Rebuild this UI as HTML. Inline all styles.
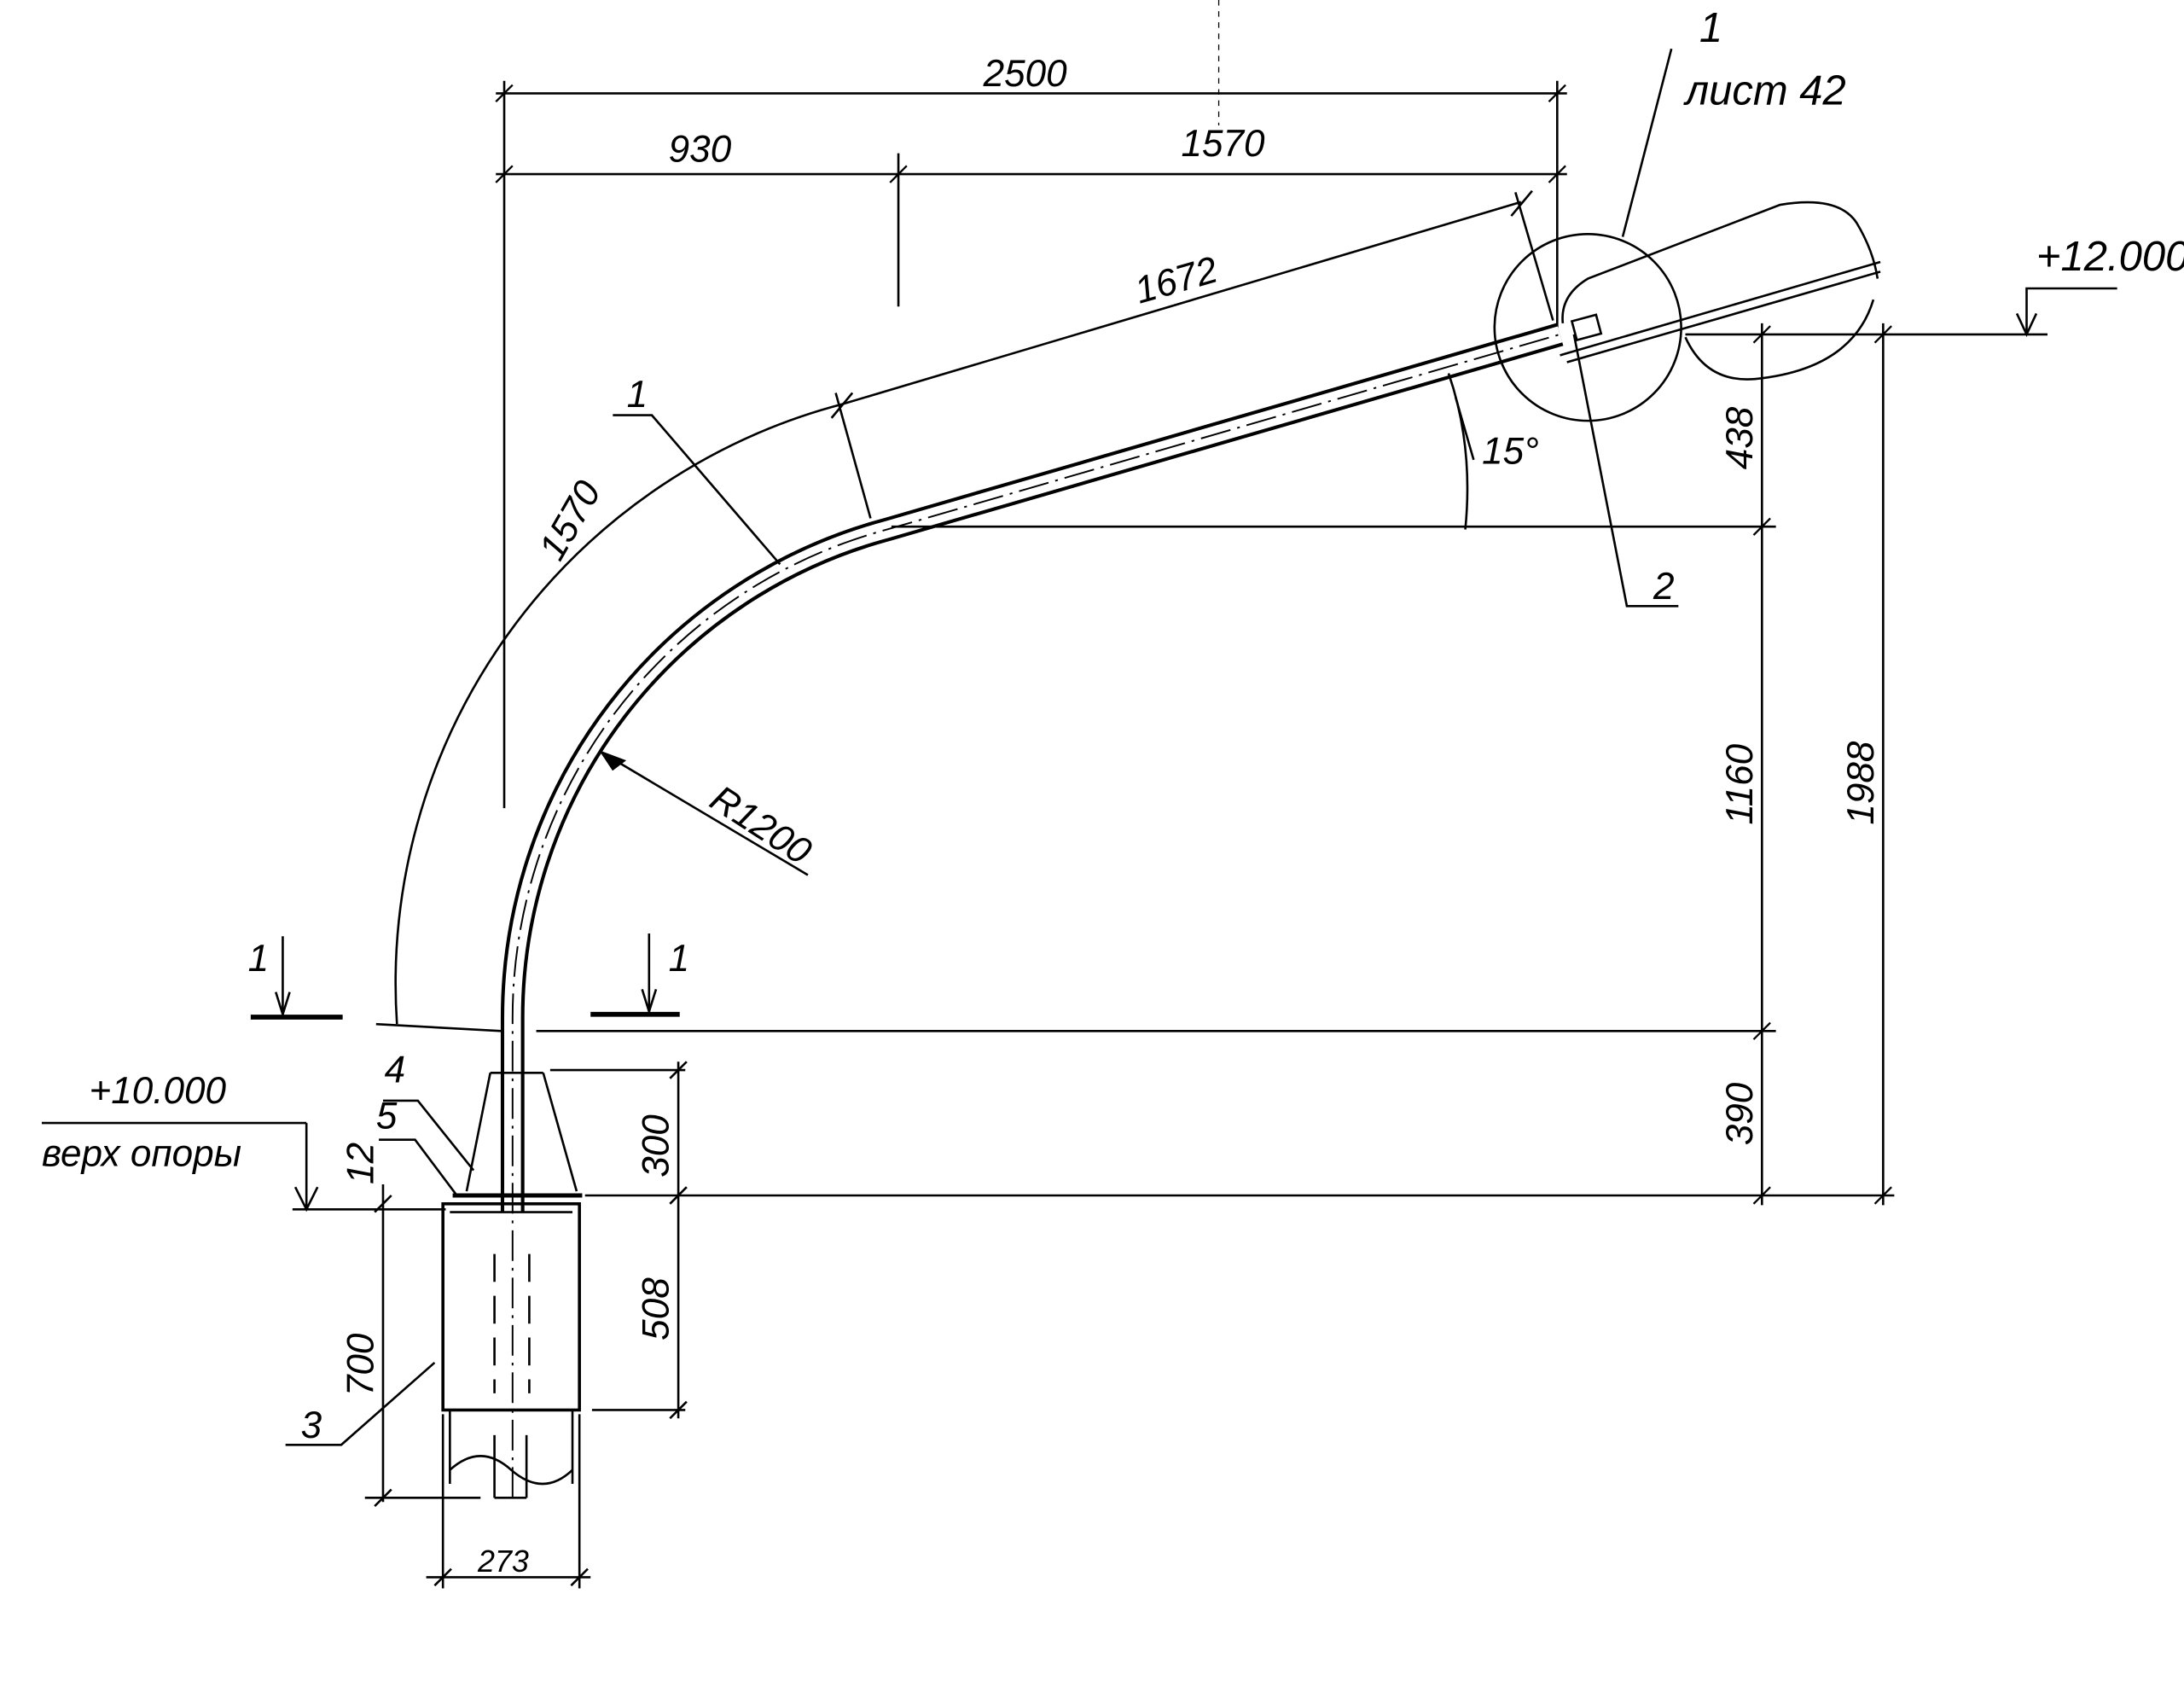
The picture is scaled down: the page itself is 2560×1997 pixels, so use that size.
<!DOCTYPE html>
<html><head><meta charset="utf-8"><style>
html,body{margin:0;padding:0;background:#fff;}
svg{display:block;}
text{font-family:"Liberation Sans",sans-serif;font-style:italic;fill:#000;}
</style></head><body>
<svg width="2560" height="1997" viewBox="0 0 1568 1223" preserveAspectRatio="none" xmlns="http://www.w3.org/2000/svg">
<rect width="1568" height="1223" fill="#fff"/>
<g stroke="#000" fill="none" stroke-width="1.6">
<line x1="356" y1="67" x2="1125" y2="67"/>
<line x1="356" y1="125" x2="1125" y2="125"/>
<line x1="362" y1="58" x2="362" y2="580"/>
<line x1="1118" y1="58" x2="1118" y2="235"/>
<line x1="645" y1="110" x2="645" y2="220"/>
<g stroke-width="1.4">
<line x1="356" y1="73" x2="368" y2="61"/><line x1="1112" y1="73" x2="1124" y2="61"/>
<line x1="356" y1="131" x2="368" y2="119"/><line x1="639" y1="131" x2="651" y2="119"/><line x1="1112" y1="131" x2="1124" y2="119"/>
</g>
<path d="M368 870 L368 731 A363 363 0 0 1 637 380 L1120 240" stroke-width="17"/>
<path d="M368 870 L368 731 A363 363 0 0 1 637 380 L1120 240" stroke="#fff" stroke-width="12"/>
<path d="M368 1075 L368 731 A363 363 0 0 1 637 380 L1120 240" stroke-width="1.2" stroke-dasharray="22 5 2 5"/>
<path d="M285 735 A430 430 0 0 1 605 290"/>
<line x1="605" y1="290" x2="1092" y2="145"/>
<line x1="600" y1="282" x2="625" y2="372"/>
<line x1="1088" y1="138" x2="1115" y2="230"/>
<line x1="597" y1="300" x2="612" y2="282"/><line x1="1085" y1="155" x2="1100" y2="137"/>
<polyline points="440,298 468,298 560,405"/>
<line x1="432" y1="540" x2="580" y2="628"/>
<polyline points="432,540 448,546 440,552 432,540" fill="#000"/>
<polyline points="1200,35 1165,170"/>
<polyline points="1130,240 1168,435 1205,435"/>
<line x1="640" y1="378" x2="1275" y2="378"/>
<path d="M1040 268 Q1058 320 1052 380"/>
<line x1="1045" y1="285" x2="1058" y2="330"/>
<circle cx="1140" cy="235" r="67"/>
<path d="M1122 232 Q1120 212 1140 200 L1278 147 Q1320 140 1333 160 Q1345 180 1348 200"/>
<path d="M1210 242 Q1225 275 1260 272 Q1330 265 1345 215"/>
<line x1="1120" y1="255" x2="1350" y2="188"/>
<line x1="1125" y1="260" x2="1350" y2="195"/>
<rect x="1130" y="228" width="18" height="14" transform="rotate(-15 1139 235)"/>
<line x1="1210" y1="240" x2="1470" y2="240"/>
<polyline points="1455,240 1455,207 1520,207"/>
<polyline points="1448,225 1455,240 1462,225"/>
<line x1="1265" y1="232" x2="1265" y2="865"/>
<line x1="1352" y1="232" x2="1352" y2="865"/>
<g stroke-width="1.4">
<line x1="1259" y1="246" x2="1271" y2="234"/><line x1="1259" y1="384" x2="1271" y2="372"/>
<line x1="1259" y1="746" x2="1271" y2="734"/><line x1="1259" y1="864" x2="1271" y2="852"/>
<line x1="1346" y1="246" x2="1358" y2="234"/><line x1="1346" y1="864" x2="1358" y2="852"/>
</g>
<line x1="270" y1="735" x2="360" y2="740"/>
<line x1="385" y1="740" x2="1275" y2="740"/>
<line x1="420" y1="858" x2="1360" y2="858"/>
<line x1="180" y1="730" x2="246" y2="730" stroke-width="3.5"/>
<line x1="424" y1="728" x2="488" y2="728" stroke-width="3.5"/>
<line x1="203" y1="672" x2="203" y2="728"/><polyline points="198,712 203,728 208,712"/>
<line x1="466" y1="670" x2="466" y2="726"/><polyline points="461,710 466,726 471,710"/>
<line x1="352" y1="770" x2="335" y2="855"/>
<line x1="390" y1="770" x2="414" y2="855"/>
<line x1="352" y1="770" x2="390" y2="770"/>
<line x1="325" y1="858" x2="418" y2="858" stroke-width="3"/>
<rect x="318" y="864" width="98" height="148" stroke-width="2.2"/>
<line x1="323" y1="870" x2="411" y2="870"/>
<line x1="323" y1="1012" x2="323" y2="1065"/>
<line x1="411" y1="1012" x2="411" y2="1065"/>
<path d="M323 1055 Q345 1035 367 1055 Q390 1075 411 1055"/>
<line x1="355" y1="1030" x2="355" y2="1075"/><line x1="378" y1="1030" x2="378" y2="1075"/><line x1="355" y1="1075" x2="378" y2="1075"/>
<line x1="355" y1="900" x2="355" y2="1000" stroke-dasharray="20 10"/>
<line x1="380" y1="900" x2="380" y2="1000" stroke-dasharray="20 10"/>
<line x1="395" y1="768" x2="492" y2="768"/>
<line x1="487" y1="762" x2="487" y2="1018"/>
<line x1="425" y1="1012" x2="492" y2="1012"/>
<line x1="481" y1="774" x2="493" y2="762"/><line x1="481" y1="864" x2="493" y2="852"/><line x1="481" y1="1018" x2="493" y2="1006"/>
<line x1="275" y1="850" x2="275" y2="1078"/>
<line x1="262" y1="1075" x2="345" y2="1075"/>
<line x1="269" y1="1081" x2="281" y2="1069"/><line x1="269" y1="870" x2="281" y2="858"/>
<line x1="210" y1="868" x2="320" y2="868"/>
<polyline points="220,806 220,868"/><polyline points="30,806 220,806"/>
<polyline points="212,852 220,868 228,852"/>
<line x1="318" y1="1015" x2="318" y2="1140"/><line x1="416" y1="1015" x2="416" y2="1140"/>
<line x1="306" y1="1132" x2="424" y2="1132"/>
<line x1="312" y1="1138" x2="324" y2="1126"/><line x1="410" y1="1138" x2="422" y2="1126"/>
<polyline points="205,1037 245,1037 312,978"/>
<polyline points="275,790 300,790 340,840"/>
<polyline points="272,818 298,818 328,858"/>
<line x1="875" y1="0" x2="875" y2="90" stroke-width="0.8" stroke-dasharray="4 4"/>
</g>
<g font-size="27">
<text x="706" y="62">2500</text>
<text x="480" y="116">930</text>
<text x="848" y="112">1570</text>
<text x="818" y="218" transform="rotate(-16 818 218)">1672</text>
<text x="450" y="292">1</text>
<text x="402" y="404" transform="rotate(-60 402 404)">1570</text>
<text x="508" y="578" transform="rotate(33 508 578)">R1200</text>
<text x="1064" y="333">15°</text>
<text x="1220" y="30" font-size="30">1</text>
<text x="1210" y="75" font-size="30">лист 42</text>
<text x="1187" y="430">2</text>
<text x="1462" y="194" font-size="30">+12.000</text>
<text x="1258" y="337" transform="rotate(-90 1258 337)">438</text>
<text x="1258" y="592" transform="rotate(-90 1258 592)">1160</text>
<text x="1345" y="592" transform="rotate(-90 1345 592)">1988</text>
<text x="1258" y="822" transform="rotate(-90 1258 822)">390</text>
<text x="178" y="697">1</text>
<text x="480" y="697">1</text>
<text x="64" y="792">+10.000</text>
<text x="30" y="837">верх опоры</text>
<text x="276" y="777">4</text>
<text x="270" y="810">5</text>
<text x="268" y="850" transform="rotate(-90 268 850)">12</text>
<text x="480" y="845" transform="rotate(-90 480 845)">300</text>
<text x="480" y="962" transform="rotate(-90 480 962)">508</text>
<text x="268" y="1002" transform="rotate(-90 268 1002)">700</text>
<text x="216" y="1032">3</text>
<text x="343" y="1128" font-size="22">273</text>
</g>
</svg>
</body></html>
